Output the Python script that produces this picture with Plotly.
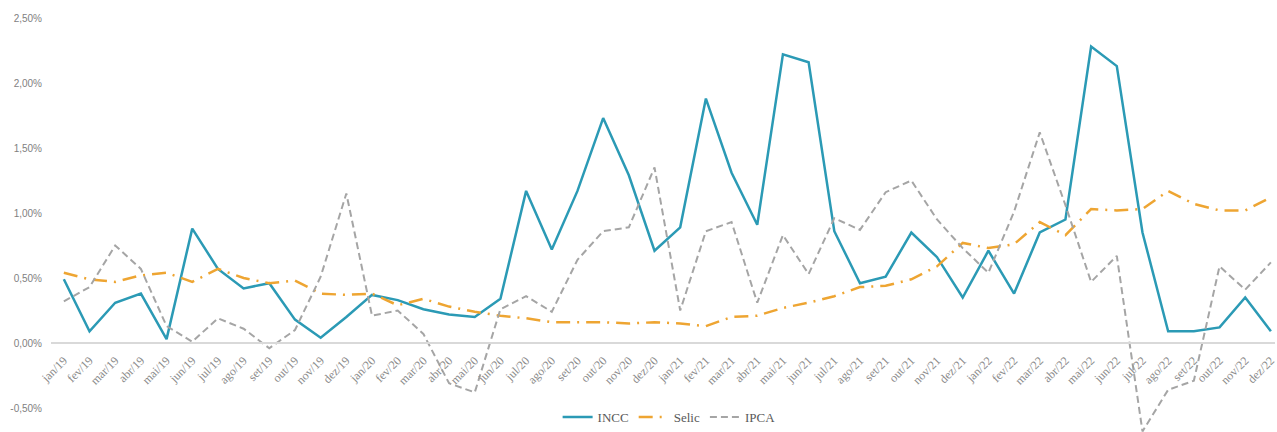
import plotly.graph_objects as go

months = ["jan", "fev", "mar", "abr", "mai", "jun", "jul", "ago", "set", "out", "nov", "dez"]
categories = [f"{m}/{y}" for y in ("19", "20", "21", "22") for m in months]

incc = [0.49, 0.09, 0.31, 0.38, 0.03, 0.88, 0.57, 0.42, 0.46, 0.18, 0.04, 0.20,
        0.37, 0.33, 0.26, 0.22, 0.20, 0.34, 1.17, 0.72, 1.17, 1.73, 1.29, 0.71,
        0.89, 1.88, 1.31, 0.91, 2.22, 2.16, 0.86, 0.46, 0.51, 0.85, 0.66, 0.35,
        0.71, 0.38, 0.85, 0.95, 2.28, 2.13, 0.85, 0.09, 0.09, 0.12, 0.35, 0.09]

selic = [0.54, 0.49, 0.47, 0.52, 0.54, 0.47, 0.57, 0.50, 0.46, 0.48, 0.38, 0.37,
         0.38, 0.29, 0.34, 0.28, 0.24, 0.21, 0.19, 0.16, 0.16, 0.16, 0.15, 0.16,
         0.15, 0.13, 0.20, 0.21, 0.27, 0.31, 0.36, 0.43, 0.44, 0.49, 0.59, 0.77,
         0.73, 0.76, 0.93, 0.83, 1.03, 1.02, 1.03, 1.17, 1.07, 1.02, 1.02, 1.12]

ipca = [0.32, 0.43, 0.75, 0.57, 0.13, 0.01, 0.19, 0.11, -0.04, 0.10, 0.51, 1.15,
        0.21, 0.25, 0.07, -0.31, -0.38, 0.26, 0.36, 0.24, 0.64, 0.86, 0.89, 1.35,
        0.25, 0.86, 0.93, 0.31, 0.83, 0.53, 0.96, 0.87, 1.16, 1.25, 0.95, 0.73,
        0.54, 1.01, 1.62, 1.06, 0.47, 0.67, -0.68, -0.36, -0.29, 0.59, 0.41, 0.62]

y_ticks = [-0.5, 0.0, 0.5, 1.0, 1.5, 2.0, 2.5]
y_tick_labels = ["-0,50%", "0,00%", "0,50%", "1,00%", "1,50%", "2,00%", "2,50%"]
x_idx = list(range(len(categories)))

# plot area geometry (px): 130 px per percentage point, zero line at y=343
H, TOP, BOTTOM = 432, 18, 0
plot_h = H - TOP - BOTTOM
y_top = 2.5
y_bottom = y_top - plot_h / 130
zero_pos = (H - BOTTOM - 343) / plot_h

fig = go.Figure()
fig.add_trace(go.Scatter(
    x=x_idx, y=incc, name="INCC", mode="lines",
    line=dict(color="#2b9ab5", width=2.5),
))
fig.add_trace(go.Scatter(
    x=x_idx, y=selic, name="Selic", mode="lines",
    line=dict(color="#eea532", width=2.5, dash="14px,7px,2px,7px"),
))
fig.add_trace(go.Scatter(
    x=x_idx, y=ipca, name="IPCA", mode="lines",
    line=dict(color="#a5a5a5", width=2, dash="7px,4px"),
))

fig.update_layout(
    width=1277, height=H,
    margin=dict(l=51, r=0, t=TOP, b=BOTTOM),
    paper_bgcolor="white", plot_bgcolor="white",
    showlegend=True,
    legend=dict(
        orientation="h", x=0.505, xanchor="center", y=0, yanchor="bottom",
        font=dict(family="Liberation Serif", size=13, color="#595959"),
        itemwidth=30, traceorder="normal", bgcolor="rgba(0,0,0,0)",
    ),
    xaxis=dict(
        range=[-0.5, 47.16],
        tickmode="array", tickvals=x_idx, ticktext=categories,
        tickangle=-45,
        tickfont=dict(family="Liberation Serif", size=12, color="#8a8a8a"),
        ticklabeloverflow="allow",
        ticklabelstandoff=5,
        showgrid=False, zeroline=False,
        showline=True, linecolor="#d9d9d9", linewidth=1.5,
        ticks="", anchor="free", position=zero_pos,
    ),
    yaxis=dict(
        range=[y_bottom, y_top],
        tickmode="array", tickvals=y_ticks, ticktext=y_tick_labels,
        tickfont=dict(family="Liberation Sans", size=10, color="#7f7f7f"),
        ticklabelstandoff=8,
        showgrid=False, zeroline=False, showline=False, ticks="",
    ),
)

fig.write_html("out.html")
